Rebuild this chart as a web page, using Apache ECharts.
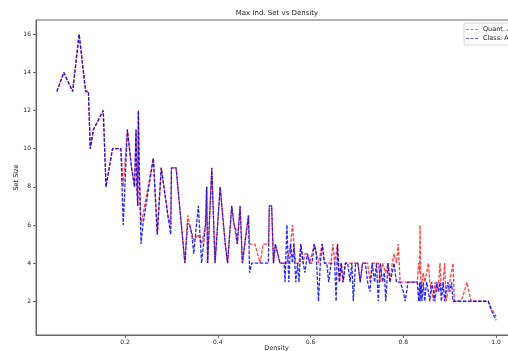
<!DOCTYPE html>
<html>
<head>
<meta charset="utf-8">
<script src="https://cdn.jsdelivr.net/npm/echarts@6/dist/echarts.min.js"></script>
<style>html,body{margin:0;padding:0;background:#fff}#c{width:508px;height:351px}</style>
</head>
<body>
<div id="c"></div>
<script>
const titleText = 'Max Ind. Set vs Density';
const xName = 'Density';
const yName = 'Set Size';
const seriesNames = ['Quant. Algorithm', 'Class. Algorithm'];
const xTicks = [0.2, 0.4, 0.6, 0.8, 1.0];
const yTicks = [2, 4, 6, 8, 10, 12, 14, 16];

const density = [
  0.053,0.068,0.087,0.101,0.115,0.121,0.125,0.1317,0.153,0.159,0.173,
  0.191,0.196,0.199,0.205,0.214,0.2205,0.2237,0.2255,0.2274,0.2287,
  0.2305,0.2345,0.2385,0.261,0.2695,0.278,0.293,0.2985,0.300,0.310,
  0.329,0.335,0.340,0.344,0.348,0.358,0.365,0.3735,0.376,0.378,
  0.387,0.394,0.405,0.416,0.421,0.430,0.435,0.4385,0.442,0.448,
  0.453,0.466,0.4685,0.473,0.480,0.491,0.498,0.509,0.511,0.516,
  0.520,0.524,0.528,0.534,0.543,0.545,0.549,0.553,0.557,0.561,
  0.564,0.568,0.572,0.575,0.579,0.584,0.588,0.593,0.598,0.603,
  0.608,0.612,0.617,0.621,0.625,0.630,0.635,0.639,0.644,0.648,
  0.652,0.655,0.658,0.662,0.666,0.670,0.675,0.680,0.685,0.689,
  0.692,0.697,0.702,0.707,0.712,0.718,0.723,0.728,0.733,0.738,
  0.742,0.746,0.750,0.755,0.759,0.762,0.767,0.771,0.776,0.780,
  0.785,0.789,0.793,0.800,0.804,0.810,0.820,0.830,0.831,0.833,
  0.835,0.836,0.838,0.840,0.843,0.846,0.850,0.854,0.857,0.861,
  0.865,0.868,0.872,0.876,0.879,0.882,0.886,0.889,0.892,0.896,
  0.900,0.904,0.907,0.910,0.920,0.928,0.937,0.946,0.960,0.975,
  0.983,0.990,1.0
];

const quantSize = [
  13,14,13,16,13,13,10,11,12,8,10,
  10,8,8,11,9,8,11,8,7,12,
  9,6,6,9.5,5.5,9,6.4,6,9,9,
  4,6.5,6,6,5.2,5.5,5,6,8,4,
  9,4,8,5,4,7,6,6,5,7,
  4,6.5,5,5,5,4,5,5,7,7,
  4,5,5,4,4,4,4,4,5,6,
  5,4,4,4,5,4,4.5,4.5,4,4.5,
  5,5,4,4,5,4,4,4,4,5,
  4,4,5,3,4,3,4,4,4,4,
  4,4,4,3,4,4,4,3,4,4,
  4,4,3,4,4,3.5,4,3,4,4.5,
  4,5,3,3,3,3,3,3,3,4,
  3.5,6,2.5,3,3.5,3,3.5,4,3,2.5,
  2,3,2.5,3,4,2.5,3,4,2,2.5,
  3,3,4,2,2,2.2,3,2,2,2,
  2,1.6,1.2
];

const classSize = [
  13,14,13,16,13,13,10,11,12,8,10,
  10,6,6,11,9,8,11,8,7,12,
  9,5,6,9.5,5.5,9,6.4,5.5,9,9,
  4,6.1,5.9,5.5,4.5,7,4,6,8,4,
  9,4,8,5,4,7,6,5.8,5,7,
  4,6.5,3.5,4,4,4,4,4,7,7,
  4,5,5,4,4,3,6,3,5,4,
  5,3,4,3,5,4,3.5,4.5,4,4,
  5,4.5,2,4,5,4,4,3,4,4,
  4,2,5,3,4,3,4,4,3,4,
  2,4,4,3,4,4,3,2.5,4,3,
  4,2,4,3,3.5,2,4,3,3.5,4,
  3,3,3,2.5,2,3,3,3,3,2,
  3,2,3,2,3,2,3,2.5,2,3,
  2.5,2,3,2.5,3,2,3,2,2.5,3,
  2.5,3,2,2,2,2,2,2,2,2,
  2,1.5,1.0
];

const font = 'DejaVu Sans';
const pairs = (ys) => density.map((d, i) => [d, ys[i]]);
const dashIcon = 'path://M0,0H4V1H0Z M6,0H10V1H6Z M12,0H16V1H12Z';

const chart = echarts.init(document.getElementById('c'), null, {renderer: 'canvas'});
chart.setOption({
  animation: false,
  backgroundColor: '#fff',
  title: {
    text: titleText, left: 277, top: 10, padding: 0, textAlign: 'center',
    textStyle: {fontFamily: font, fontSize: 7, fontWeight: 'normal', color: '#222'}
  },
  legend: {
    orient: 'vertical', left: 464, top: 23, padding: [3, 30, 3, 2], itemGap: 2,
    itemWidth: 12, itemHeight: 1.5,
    backgroundColor: '#fff', borderColor: '#d6d6d6', borderWidth: 1, borderRadius: 2,
    textStyle: {fontFamily: font, fontSize: 6.5, color: '#222'},
    data: [{name: seriesNames[0], icon: dashIcon}, {name: seriesNames[1], icon: dashIcon}]
  },
  grid: {left: 36, right: -9, top: 20, bottom: 16, show: true, borderColor: '#666', borderWidth: 1,
    containLabel: false, outerBoundsMode: 'none'},
  xAxis: {
    type: 'value', min: 0.008, max: 1.045,
    name: xName, nameLocation: 'middle', nameGap: 10, nameMoveOverlap: false,
    nameTextStyle: {fontFamily: font, fontSize: 6.5, color: '#222'},
    axisLine: {show: true, lineStyle: {color: '#666', width: 1}},
    axisTick: {show: true, length: 3, customValues: xTicks, lineStyle: {color: '#666'}},
    axisLabel: {customValues: xTicks, margin: 4, fontFamily: font, fontSize: 6, color: '#222',
      formatter: (v) => v.toFixed(1)},
    splitLine: {show: false}
  },
  yAxis: {
    type: 'value', min: 0.23, max: 16.75,
    name: yName, nameLocation: 'middle', nameGap: 16, nameMoveOverlap: false,
    nameTextStyle: {fontFamily: font, fontSize: 6.5, color: '#222'},
    axisLine: {show: true, lineStyle: {color: '#666', width: 1}},
    axisTick: {show: true, length: 3, customValues: yTicks, lineStyle: {color: '#666'}},
    axisLabel: {customValues: yTicks, margin: 5, fontFamily: font, fontSize: 6, color: '#222',
      formatter: (v) => String(Math.round(v))},
    splitLine: {show: false}
  },
  series: [
    {
      name: seriesNames[0], type: 'line', data: pairs(quantSize), symbol: 'none',
      itemStyle: {color: 'rgba(255,0,0,0.75)'},
      lineStyle: {color: 'rgba(255,0,0,0.75)', width: 1.3, type: [3.5, 1.5]}
    },
    {
      name: seriesNames[1], type: 'line', data: pairs(classSize), symbol: 'none',
      itemStyle: {color: 'rgba(0,0,255,0.85)'},
      lineStyle: {color: 'rgba(0,0,255,0.85)', width: 1.3, type: [3.5, 1.5]}
    }
  ]
});
</script>
</body>
</html>
